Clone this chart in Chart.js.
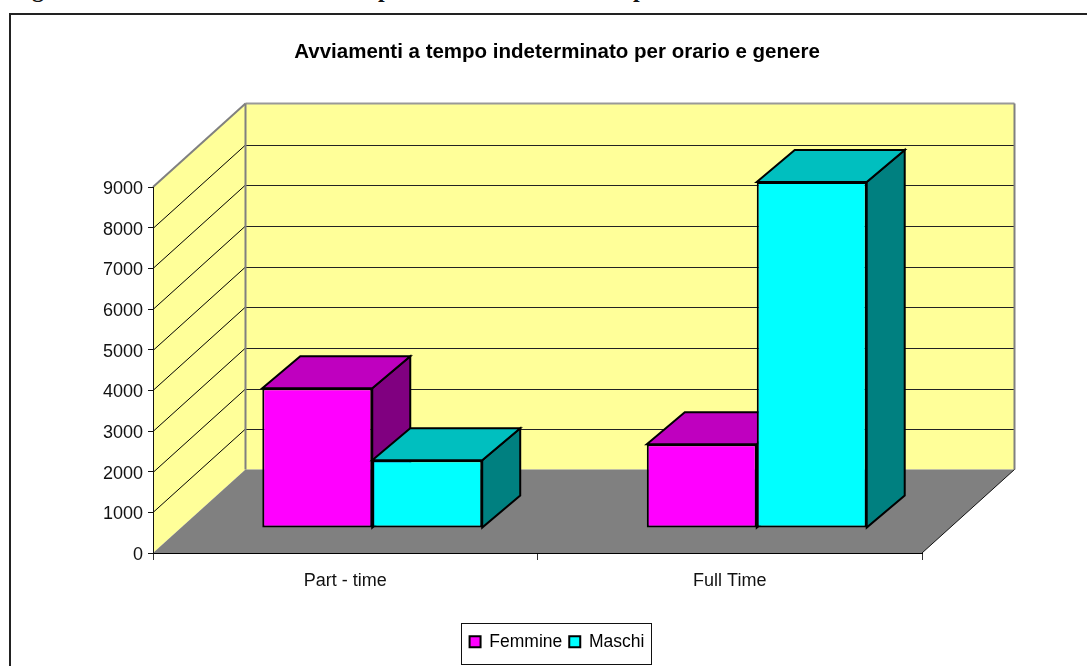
<!DOCTYPE html>
<html>
<head>
<meta charset="utf-8">
<script src="https://cdn.jsdelivr.net/npm/chart.js@4"></script>
<style>
  html, body { margin: 0; padding: 0; background: #fff; overflow: hidden; }
  #frame { position: absolute; left: 9px; top: 13px; width: 1078px; height: 653px;
           border-left: 2px solid #222; border-top: 2px solid #222; box-sizing: border-box; }
  #chart { position: absolute; left: 0; top: 0; }
  /* heading of the page above the chart: only its descenders are inside the picture */
  .cut { position: absolute; top: -25px; font: bold 24px "Liberation Serif", serif; color: #111; line-height: 28px; }
</style>
</head>
<body>
<span class="cut" style="left:32px">g</span>
<span class="cut" style="left:378px">p</span>
<span class="cut" style="left:633px">p</span>
<div id="frame"></div>
<canvas id="chart" width="1087" height="666"></canvas>
<script>
const chartTitle = 'Avviamenti a tempo indeterminato per orario e genere';
const categories = ['Part - time', 'Full Time'];
const femmine = [3435, 2058];
const maschi = [1665, 8510];

// pseudo 3D depth, in pixels
const WALL_DX = 92.5, WALL_DY = -83.5;
const BAR_SHIFT_X = 27, BAR_SHIFT_Y = -25;
const BAR_DX = 38, BAR_DY = -32;

const shades = {
  Femmine: { top: '#BF00BF', side: '#800080' },
  Maschi: { top: '#00BFBF', side: '#008080' }
};

function poly(ctx, pts, fill, stroke, lw) {
  ctx.beginPath();
  pts.forEach((p, i) => i ? ctx.lineTo(p[0], p[1]) : ctx.moveTo(p[0], p[1]));
  ctx.closePath();
  if (fill) { ctx.fillStyle = fill; ctx.fill(); }
  if (stroke) { ctx.strokeStyle = stroke; ctx.lineWidth = lw; ctx.stroke(); }
}

function line(ctx, x1, y1, x2, y2, color, lw) {
  ctx.beginPath();
  ctx.moveTo(x1, y1);
  ctx.lineTo(x2, y2);
  ctx.strokeStyle = color;
  ctx.lineWidth = lw;
  ctx.stroke();
}

// walls and floor, placed from the scales
const room = {
  id: 'room',
  beforeDraw(chart) {
    const { ctx, scales } = chart;
    const l = scales.x.left, r = scales.x.right;
    const y0 = scales.y.getPixelForValue(0);
    const yTop = scales.y.getPixelForValue(9000);
    const dx = WALL_DX, dy = WALL_DY;
    // tick labels sit a little low in the original
    scales.y.getLabelItems(chart.chartArea).forEach(item => { item.textOffset = 2; });
    ctx.save();
    poly(ctx, [[l, y0], [l + dx, y0 + dy], [l + dx, yTop + dy], [l, yTop]], '#FFFF99');
    poly(ctx, [[l + dx, y0 + dy], [r + dx, y0 + dy], [r + dx, yTop + dy], [l + dx, yTop + dy]], '#FFFF99');
    poly(ctx, [[l, y0], [r, y0], [r + dx, y0 + dy], [l + dx, y0 + dy]], '#808080');
    scales.y.ticks.forEach(t => {
      const y = Math.round(scales.y.getPixelForValue(t.value)) + 0.5;
      if (t.value === 0 || t.value === 9000) return;
      line(ctx, l, y, l + dx, y + dy, '#000', 1);
      line(ctx, l + dx, Math.round(y + dy) + 0.5, r + dx, Math.round(y + dy) + 0.5, '#222', 1);
    });
    line(ctx, l, yTop, l + dx, yTop + dy, '#808080', 2);
    line(ctx, l + dx, yTop + dy, r + dx, yTop + dy, '#999', 2);
    line(ctx, l + dx, yTop + dy, l + dx, y0 + dy, '#808080', 2);
    line(ctx, r + dx, yTop + dy, r + dx, y0 + dy, '#808080', 2);
    line(ctx, r, y0, r + dx, y0 + dy, '#111', 1);
    ctx.restore();
  },
  // painted left to right, so each series hides the depth of the one before
  beforeDatasetsDraw(chart) {
    const { ctx } = chart;
    ctx.save();
    ctx.translate(BAR_SHIFT_X, BAR_SHIFT_Y);
    chart.data.datasets.forEach((d, i) => {
      const shade = shades[d.label];
      chart.getDatasetMeta(i).data.forEach(bar => {
        const p = bar.getProps(['x', 'y', 'base', 'width']);
        const xl = p.x - p.width / 2, xr = p.x + p.width / 2;
        poly(ctx, [[xr, p.y], [xr + BAR_DX, p.y + BAR_DY], [xr + BAR_DX, p.base + BAR_DY], [xr, p.base]], shade.side, '#000', 2);
        poly(ctx, [[xl, p.y], [xl + BAR_DX, p.y + BAR_DY], [xr + BAR_DX, p.y + BAR_DY], [xr, p.y]], shade.top, '#000', 2);
        bar.draw(ctx);
      });
    });
    ctx.restore();
    return false;
  },
  afterDraw(chart) {
    const { ctx, legend } = chart;
    ctx.save();
    ctx.strokeStyle = '#111';
    ctx.lineWidth = 1;
    ctx.strokeRect(461.5, legend.top - 2.5, 190, 41);
    ctx.restore();
  }
};

new Chart(document.getElementById('chart'), {
  type: 'bar',
  data: {
    labels: categories,
    datasets: [
      { label: 'Femmine', data: femmine, backgroundColor: '#FF00FF' },
      { label: 'Maschi', data: maschi, backgroundColor: '#00FFFF' }
    ]
  },
  plugins: [room],
  options: {
    responsive: false,
    animation: false,
    layout: { padding: { left: 27, right: 0, top: 0, bottom: 5.5 } },
    datasets: {
      bar: {
        categoryPercentage: 0.572,
        barPercentage: 1,
        borderColor: '#000',
        borderWidth: 2,
        borderSkipped: false,
        clip: false
      }
    },
    scales: {
      x: {
        grid: { drawOnChartArea: false, color: '#333', tickLength: 7 },
        border: { color: '#000', width: 1 },
        ticks: { color: '#111', padding: 10, maxRotation: 0,
                 font: { family: '"Liberation Sans", Arial, sans-serif', size: 18 } },
        afterFit(s) { s.height = 73; }
      },
      y: {
        min: 0,
        max: 9000,
        grid: { drawOnChartArea: false, color: '#111', tickLength: 5 },
        border: { color: '#111', width: 1 },
        ticks: { stepSize: 1000, color: '#111', padding: 5, callback: v => String(v),
                 font: { family: '"Liberation Sans", Arial, sans-serif', size: 18 } },
        afterFit(s) { s.width = 126; }
      },
      // keeps the plot off the right side while title and legend stay centred on the page
      spacer: {
        position: 'right',
        display: true,
        grid: { display: false },
        border: { display: false },
        ticks: { display: false },
        afterFit(s) { s.width = 165; }
      }
    },
    plugins: {
      title: {
        display: true,
        text: chartTitle,
        color: '#000',
        font: { family: '"Liberation Sans", Arial, sans-serif', size: 20.5, weight: 'bold' },
        padding: { top: 40, bottom: 122.4 }
      },
      legend: {
        position: 'bottom',
        labels: {
          color: '#000',
          boxWidth: 11,
          boxHeight: 11,
          padding: 7,
          font: { family: '"Liberation Sans", Arial, sans-serif', size: 17.5 },
          generateLabels(chart) {
            return chart.data.datasets.map((d, i) => ({
              text: d.label, fillStyle: d.backgroundColor, strokeStyle: '#000',
              lineWidth: 2, datasetIndex: i
            }));
          }
        }
      },
      tooltip: { enabled: false }
    }
  }
});
</script>
</body>
</html>
